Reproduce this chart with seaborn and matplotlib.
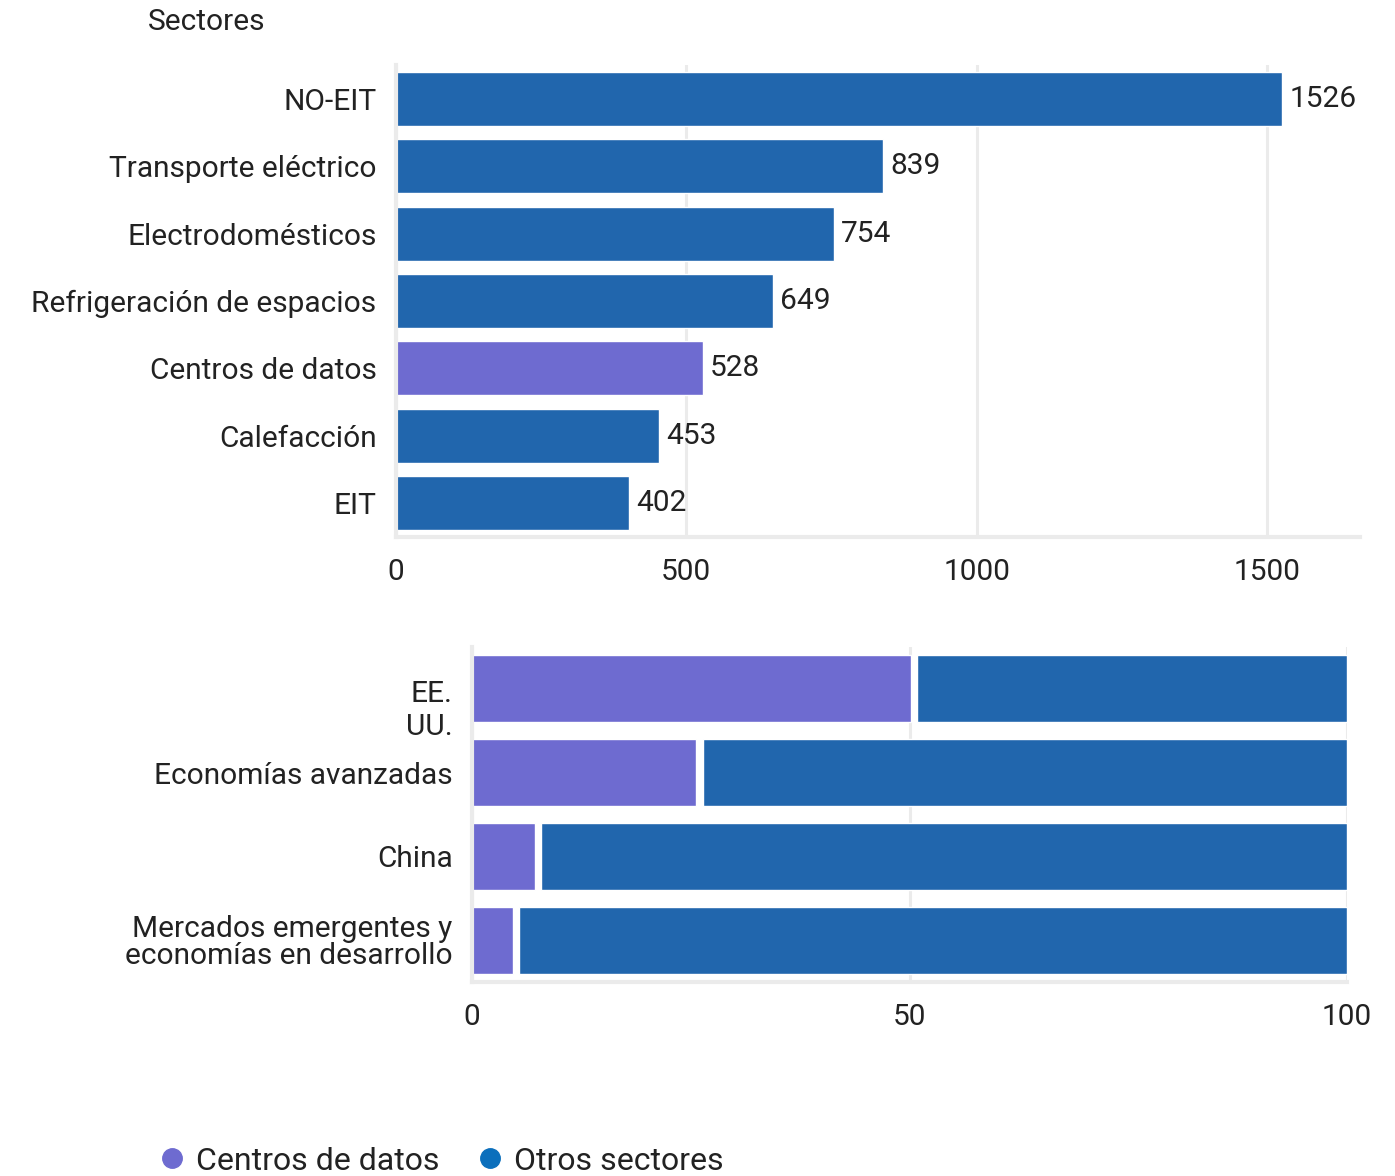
import numpy as np
import pandas as pd
import matplotlib
matplotlib.use("Agg")
import matplotlib.pyplot as plt
import matplotlib.transforms as mtransforms
import seaborn as sns
from matplotlib.lines import Line2D

# Electricity demand growth by sector
sectors = ["NO-EIT", "Transporte eléctrico", "Electrodomésticos",
           "Refrigeración de espacios", "Centros de datos", "Calefacción", "EIT"]
sector_values = [1526, 839, 754, 649, 528, 453, 402]

# Share of demand growth from data centres vs other sectors by region (%)
regions = ["EE.\nUU.", "Economías avanzadas", "China",
           "Mercados emergentes y\neconomías en desarrollo"]
datacenter_share = [50.5, 26, 7.5, 5]
other_share = [100 - v for v in datacenter_share]

BLUE = "#2166ad"
PURPLE = "#6e6bd0"
LEGEND_BLUE = "#0b6fbc"
GRID = "#ebebeb"
TEXT = "#222222"

sns.set_theme(style="white")
plt.rcParams["font.family"] = ["Roboto", "DejaVu Sans"]

FS = 21.5

fig = plt.figure(figsize=(13.95, 11.76), dpi=100)
W, H = 1395, 1176

def px_axes(left, top, right, bottom):
    return fig.add_axes([left / W, 1 - bottom / H, (right - left) / W, (bottom - top) / H])

# ---- Top panel: sectors ----
ax1 = px_axes(396, 65, 1360, 537)
df1 = pd.DataFrame({"sector": sectors, "value": sector_values})
bar_colors = [PURPLE if s == "Centros de datos" else BLUE for s in sectors]
sns.barplot(data=df1, x="value", y="sector", hue="sector", palette=bar_colors,
            legend=False, width=0.8, saturation=1, ax=ax1, zorder=2)
for cont in ax1.containers:
    ax1.bar_label(cont, labels=[f"{v:.0f}" for v in cont.datavalues],
                  padding=5, fontsize=FS, color=TEXT)
ax1.set_xlim(0, 1660)
ax1.set_ylim(6.5, -0.5)
ax1.set_xticks([0, 500, 1000, 1500])
ax1.xaxis.grid(True, color=GRID, linewidth=2.2, zorder=0)
ax1.set_xlabel("")
ax1.set_ylabel("")

# ---- Bottom panel: regional split ----
ax2 = px_axes(472, 647, 1347, 982)
df2 = pd.DataFrame({"region": regions, "dc": datacenter_share, "other": other_share})
sns.barplot(data=df2, x="dc", y="region", color=PURPLE, width=0.8,
            saturation=1, ax=ax2, zorder=2)
sns.barplot(data=df2, x="other", y="region", color=BLUE, width=0.8,
            saturation=1, ax=ax2, zorder=2)
# stack the "other" segment after the data-centre segment, leaving a small gap
gap = 0.7
for patch, start, w in zip(ax2.containers[1], datacenter_share, other_share):
    patch.set_x(start + gap / 2)
    patch.set_width(w - gap / 2)
for patch, w in zip(ax2.containers[0], datacenter_share):
    patch.set_width(w - gap / 2)
ax2.set_xlim(0, 100)
ax2.set_ylim(3.5, -0.5)
ax2.set_xticks([0, 50, 100])
ax2.xaxis.grid(True, color=GRID, linewidth=2.2, zorder=0)
ax2.set_xlabel("")
ax2.set_ylabel("")

for ax in (ax1, ax2):
    for side in ("top", "right"):
        ax.spines[side].set_visible(False)
    for side in ("left", "bottom"):
        ax.spines[side].set_color(GRID)
        ax.spines[side].set_linewidth(3)
    ax.tick_params(axis="x", length=8, width=2, color=GRID,
                   labelsize=FS, labelcolor=TEXT, pad=7)
    ax.tick_params(axis="y", length=8, width=2, color=GRID,
                   labelsize=FS, labelcolor=TEXT, pad=6)

ylabels2 = ax2.get_yticklabels()
ylabels2[0].set_linespacing(1.25)
ylabels2[0].set_transform(ylabels2[0].get_transform() +
                          mtransforms.ScaledTranslation(0, -0.16, fig.dpi_scale_trans))
ylabels2[3].set_linespacing(0.95)

fig.text(148 / W, 1 - 22 / H, "Sectores", fontsize=FS, color=TEXT,
         va="center", ha="left")

handles = [Line2D([], [], marker="o", linestyle="", markersize=14,
                  markerfacecolor=PURPLE, markeredgecolor=PURPLE, label="Centros de datos"),
           Line2D([], [], marker="o", linestyle="", markersize=14,
                  markerfacecolor=LEGEND_BLUE, markeredgecolor=LEGEND_BLUE, label="Otros sectores")]
fig.legend(handles=handles, loc="center left", bbox_to_anchor=(143 / W, 1 - 1161 / H),
           ncol=2, frameon=False, fontsize=23, handletextpad=0.25, columnspacing=1.1,
           labelcolor=TEXT, borderaxespad=0, handlelength=1.0)

fig.savefig("out.png", dpi=100, facecolor="white")
